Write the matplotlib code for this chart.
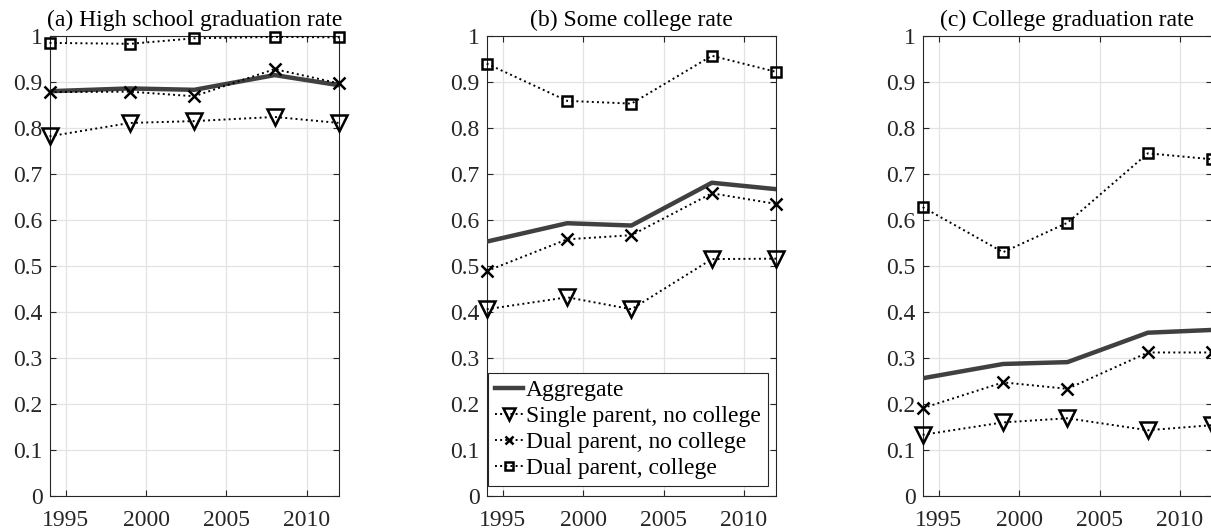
import matplotlib
matplotlib.use("Agg")
import matplotlib.pyplot as plt
from matplotlib.ticker import FixedLocator, FixedFormatter

plt.rcParams['font.family'] = ['Liberation Serif', 'DejaVu Serif']
plt.rcParams['mathtext.fontset'] = 'stix'

years = [1994, 1999, 2003, 2008, 2012]

titles = ["(a) High school graduation rate", "(b) Some college rate", "(c) College graduation rate"]

series_names = ["Aggregate", "Single parent, no college", "Dual parent, no college", "Dual parent, college"]

# panel (a)
hs_aggregate = [0.880, 0.886, 0.883, 0.915, 0.893]
hs_single_nocol = [0.782, 0.811, 0.815, 0.824, 0.811]
hs_dual_nocol = [0.878, 0.879, 0.869, 0.928, 0.897]
hs_dual_col = [0.985, 0.983, 0.995, 0.998, 0.997]

# panel (b)
sc_aggregate = [0.553, 0.593, 0.588, 0.681, 0.667]
sc_single_nocol = [0.406, 0.432, 0.406, 0.515, 0.516]
sc_dual_nocol = [0.489, 0.558, 0.567, 0.658, 0.635]
sc_dual_col = [0.940, 0.859, 0.853, 0.957, 0.922]

# panel (c)
cg_aggregate = [0.256, 0.287, 0.291, 0.355, 0.361]
cg_single_nocol = [0.133, 0.160, 0.169, 0.143, 0.154]
cg_dual_nocol = [0.191, 0.247, 0.233, 0.312, 0.312]
cg_dual_col = [0.628, 0.530, 0.594, 0.745, 0.732]

panels = [
    (hs_aggregate, hs_single_nocol, hs_dual_nocol, hs_dual_col),
    (sc_aggregate, sc_single_nocol, sc_dual_nocol, sc_dual_col),
    (cg_aggregate, cg_single_nocol, cg_dual_nocol, cg_dual_col),
]

xticks = [1995, 2000, 2005, 2010]
yticks = [0, 0.1, 0.2, 0.3, 0.4, 0.5, 0.6, 0.7, 0.8, 0.9, 1]
ytick_labels = ["0", "0.1", "0.2", "0.3", "0.4", "0.5", "0.6", "0.7", "0.8", "0.9", "1"]

W, H = 1211, 529
fig = plt.figure(figsize=(W / 100, H / 100), dpi=100)

lefts_px = [49.5, 486.7, 922.7]
width_px = 289.5
top_px, bottom_px = 36, 496

axis_col = '#262626'
fs = 17

for i, (agg, sp, dp, dc) in enumerate(panels):
    ax = fig.add_axes([lefts_px[i] / W, 1 - bottom_px / H, width_px / W, (bottom_px - top_px) / H])
    ax.plot(years, agg, '-', color='#404040', lw=3.2, label=series_names[0], zorder=3)
    ax.plot(years, sp, ':', color='black', lw=1.4, marker='v', ms=12, mfc='none', mec='black', mew=1.8,
            label=series_names[1], zorder=4, clip_on=False)
    ax.plot(years, dp, ':', color='black', lw=1.4, marker='x', ms=8, mec='black', mew=1.8,
            label=series_names[2], zorder=4, clip_on=False)
    ax.plot(years, dc, ':', color='black', lw=1.4, marker='s', ms=7, mfc='none', mec='black', mew=1.8,
            label=series_names[3], zorder=4, clip_on=False)
    ax.set_xlim(1994, 2012)
    ax.set_ylim(0, 1)
    ax.xaxis.set_major_locator(FixedLocator(xticks))
    ax.yaxis.set_major_locator(FixedLocator(yticks))
    ax.yaxis.set_major_formatter(FixedFormatter(ytick_labels))
    ax.grid(True, color='#e3e3e3', lw=0.9)
    ax.set_axisbelow(True)
    ax.tick_params(direction='in', length=4, width=0.8, colors=axis_col, labelsize=fs,
                   top=True, right=True)
    ax.tick_params(axis='x', pad=10)
    ax.tick_params(axis='y', pad=5)
    for lab in ax.get_xticklabels() + ax.get_yticklabels():
        lab.set_color(axis_col)
    for s in ax.spines.values():
        s.set_color(axis_col)
        s.set_linewidth(0.8)
    ax.set_title(titles[i], fontsize=fs, color='black', pad=7)
    if i == 1:
        leg = ax.legend(loc='lower left', bbox_to_anchor=(0.004, 0.022), fontsize=fs, frameon=True,
                        fancybox=False, framealpha=1, edgecolor=axis_col, handlelength=1.2,
                        handletextpad=0.1, labelspacing=0.18, borderpad=0.3, borderaxespad=0,
                        markerscale=0.75)
        leg.get_frame().set_linewidth(0.8)

fig.savefig("out.png", dpi=100)
